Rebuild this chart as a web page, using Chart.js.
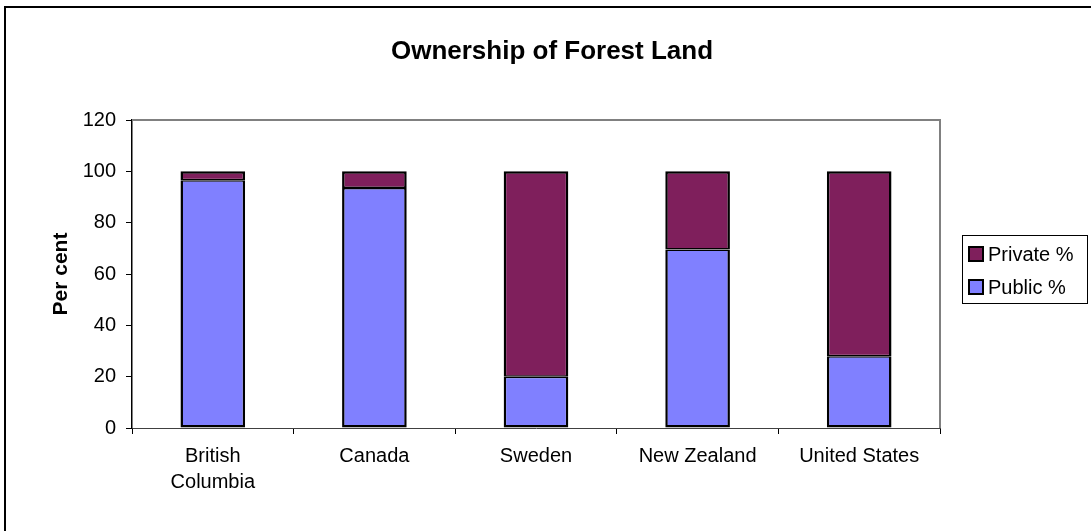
<!DOCTYPE html>
<html>
<head>
<meta charset="utf-8">
<title>Ownership of Forest Land</title>
<script src="https://cdn.jsdelivr.net/npm/chart.js@4.4.0/dist/chart.umd.min.js"></script>
<style>
  body { margin: 0; background: #fff; }
  canvas { display: block; }
</style>
</head>
<body>
<canvas id="forest-chart" width="1091" height="531"></canvas>
<script>
// Share of forest land by owner type, in per cent
const countries = [["British", "Columbia"], "Canada", "Sweden", "New Zealand", "United States"];
const publicShare = [96.5, 93.5, 20, 69.5, 28];
const privateShare = [3.5, 6.5, 80, 30.5, 72];
const yTicks = [0, 20, 40, 60, 80, 100, 120];

const chartTitle = "Ownership of Forest Land";
const FONT = "Arial, 'Liberation Sans', sans-serif";

// frame, plot border, title and boxed legend
const decorations = {
  id: "decorations",
  beforeDatasetsDraw(chart) {
    const { ctx, chartArea } = chart;
    ctx.save();
    ctx.strokeStyle = "#808080";
    ctx.lineWidth = 2;
    ctx.beginPath();
    ctx.moveTo(chartArea.left, chartArea.top);
    ctx.lineTo(chartArea.right, chartArea.top);
    ctx.lineTo(chartArea.right, chartArea.bottom);
    ctx.stroke();
    ctx.restore();
  },
  afterDraw(chart) {
    const { ctx } = chart;
    ctx.save();

    // outer frame (only top and left edges fall inside the canvas)
    ctx.strokeStyle = "#000";
    ctx.lineWidth = 2;
    ctx.beginPath();
    ctx.moveTo(5, 540);
    ctx.lineTo(5, 7);
    ctx.lineTo(1100, 7);
    ctx.stroke();

    ctx.fillStyle = "#000";
    ctx.font = "bold 26px " + FONT;
    ctx.textAlign = "center";
    ctx.textBaseline = "middle";
    ctx.fillText(chartTitle, 552, 52);

    // legend, top entry is the top of the stack
    ctx.lineWidth = 1;
    ctx.strokeRect(962.5, 235.5, 125, 68);
    ctx.font = "20px " + FONT;
    ctx.textAlign = "left";
    const items = chart.data.datasets.slice().reverse();
    items.forEach((ds, i) => {
      const cy = 254 + i * 33;
      ctx.fillStyle = ds.backgroundColor;
      ctx.fillRect(969, cy - 7, 14, 14);
      ctx.lineWidth = 2;
      ctx.strokeStyle = "#000";
      ctx.strokeRect(969, cy - 7, 14, 14);
      ctx.fillStyle = "#000";
      ctx.fillText(ds.label, 988, cy + 1);
    });
    ctx.restore();
  }
};

new Chart(document.getElementById("forest-chart"), {
  type: "bar",
  data: {
    labels: countries,
    datasets: [
      {
        label: "Public %",
        data: publicShare,
        backgroundColor: "#8080FF",
        borderColor: "#000",
        borderWidth: { top: 1.5, right: 2.5, bottom: 2.5, left: 2.5 },
        borderSkipped: false
      },
      {
        label: "Private %",
        data: privateShare,
        backgroundColor: "#7F1F5C",
        borderColor: "#000",
        borderWidth: { top: 2.5, right: 2.5, bottom: 1.5, left: 2.5 },
        borderSkipped: false
      }
    ]
  },
  options: {
    responsive: false,
    animation: false,
    layout: { padding: { top: 120, right: 151, left: 0, bottom: 0 } },
    datasets: { bar: { barPercentage: 0.4, categoryPercentage: 1 } },
    plugins: {
      legend: { display: false },
      title: { display: false },
      tooltip: { enabled: false }
    },
    scales: {
      x: {
        stacked: true,
        afterFit: (scale) => { scale.height = 103; },
        grid: {
          display: true,
          drawOnChartArea: false,
          drawTicks: true,
          tickLength: 6,
          color: "#000",
          lineWidth: 1
        },
        border: { color: "#404040", width: 1 },
        ticks: {
          color: "#000",
          padding: 9,
          maxRotation: 0,
          font: { family: FONT, size: 20, lineHeight: 1.3 }
        }
      },
      y: {
        stacked: true,
        min: yTicks[0],
        max: yTicks[yTicks.length - 1],
        afterFit: (scale) => { scale.width = 132; },
        afterBuildTicks: (scale) => {
          scale.ticks = yTicks.map((v) => ({ value: v }));
        },
        grid: {
          display: true,
          drawOnChartArea: false,
          drawTicks: true,
          tickLength: 6,
          color: "#000",
          lineWidth: 1
        },
        border: { color: "#000", width: 1.5 },
        ticks: {
          color: "#000",
          padding: 10,
          font: { family: FONT, size: 20 }
        },
        title: {
          display: true,
          text: "Per cent",
          color: "#000",
          padding: { top: 49, bottom: 0 },
          font: { family: FONT, size: 21, weight: "bold" }
        }
      }
    }
  },
  plugins: [decorations]
});
</script>
</body>
</html>
